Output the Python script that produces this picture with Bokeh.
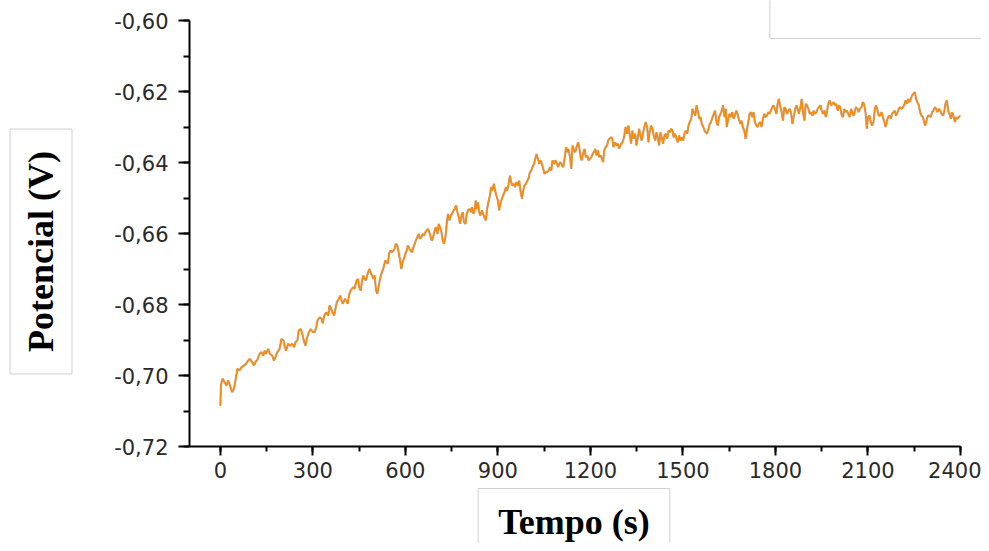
from bokeh.plotting import figure
from bokeh.models import SingleIntervalTicker, CustomJSTickFormatter, Label, Range1d
from bokeh.embed import file_html
from bokeh.resources import INLINE

# ---- data (time in s, potential in V) ----
time_a = [0, 2, 7, 14, 20, 25, 31, 38, 44, 51,
          55, 62, 68, 76, 83, 90, 96, 103, 109, 114,
          120, 127, 133, 139, 144, 148, 155, 161, 168, 174,
          179, 185, 192, 198, 205, 209, 213, 220, 226, 233,
          239, 244, 250, 254, 261, 267, 272, 276, 280, 287,
          293, 300, 306, 311, 315, 322, 328, 332, 337, 343,
          350, 354, 358, 363, 369, 374, 378, 384, 389, 393,
          397, 404, 408, 413, 417, 422]
pot_a = [-0.7085, -0.7028, -0.7009, -0.7019, -0.7028, -0.7014, -0.7028, -0.7047, -0.7038, -0.7005,
         -0.6981, -0.6986, -0.6977, -0.6972, -0.6967, -0.6958, -0.6953, -0.6962, -0.6972, -0.6962,
         -0.6956, -0.6939, -0.6934, -0.6944, -0.6930, -0.6939, -0.6925, -0.6939, -0.6944, -0.6958,
         -0.6948, -0.6934, -0.6925, -0.6897, -0.6901, -0.6920, -0.6930, -0.6911, -0.6916, -0.6911,
         -0.6920, -0.6906, -0.6901, -0.6873, -0.6869, -0.6887, -0.6906, -0.6916, -0.6897, -0.6878,
         -0.6869, -0.6878, -0.6878, -0.6864, -0.6845, -0.6836, -0.6840, -0.6853, -0.6831, -0.6822,
         -0.6831, -0.6803, -0.6808, -0.6822, -0.6831, -0.6808, -0.6793, -0.6784, -0.6775, -0.6789,
         -0.6798, -0.6784, -0.6789, -0.6798, -0.6775, -0.6761]

time_b = [431, 435, 442, 446, 450, 455, 459, 463, 468, 472,
          476, 483, 487, 492, 496, 500, 505, 509, 513, 517,
          522, 528, 535, 539, 543, 548, 552, 556, 561, 565,
          569, 574, 578, 582, 587, 591, 595, 600, 604, 608,
          613, 617, 621, 626, 630, 634, 639, 643, 647, 652,
          656, 660, 665, 669, 673, 678, 682, 686, 691, 695,
          699, 704, 708, 712, 717, 721, 725, 730, 734, 738,
          743, 747, 751, 756, 760, 764, 769, 773, 777, 782,
          786, 790, 795, 799, 803, 808, 812, 816, 821, 825,
          828]
pot_b = [-0.6751, -0.6756, -0.6732, -0.6728, -0.6751, -0.6761, -0.6737, -0.6718, -0.6728, -0.6732,
         -0.6718, -0.6700, -0.6709, -0.6718, -0.6728, -0.6718, -0.6761, -0.6770, -0.6751, -0.6732,
         -0.6714, -0.6700, -0.6676, -0.6681, -0.6685, -0.6653, -0.6648, -0.6653, -0.6648, -0.6643,
         -0.6629, -0.6634, -0.6653, -0.6671, -0.6700, -0.6681, -0.6671, -0.6657, -0.6648, -0.6634,
         -0.6643, -0.6648, -0.6653, -0.6639, -0.6629, -0.6620, -0.6610, -0.6601, -0.6615, -0.6610,
         -0.6601, -0.6606, -0.6596, -0.6592, -0.6587, -0.6596, -0.6610, -0.6620, -0.6606, -0.6592,
         -0.6582, -0.6601, -0.6573, -0.6582, -0.6596, -0.6620, -0.6629, -0.6610, -0.6573, -0.6545,
         -0.6563, -0.6549, -0.6545, -0.6535, -0.6531, -0.6521, -0.6540, -0.6554, -0.6573, -0.6549,
         -0.6540, -0.6568, -0.6573, -0.6545, -0.6535, -0.6531, -0.6540, -0.6526, -0.6545, -0.6531,
         -0.6507]

time_c = [830, 835, 839, 843, 848, 852, 856, 861, 865, 869,
          874, 878, 882, 887, 891, 895, 900, 904, 908, 913,
          917, 921, 926, 930, 934, 939, 943, 947, 952, 956,
          960, 965, 969, 973, 978, 982, 986, 991, 995, 999,
          1004, 1008, 1012, 1017, 1021, 1025, 1030, 1034, 1038, 1043,
          1047, 1051, 1056, 1060, 1064, 1069, 1073, 1077, 1082, 1086,
          1090, 1095, 1099, 1103, 1108, 1112, 1116, 1121, 1125, 1129,
          1134, 1138, 1142, 1147, 1151, 1155, 1160, 1164, 1168, 1172,
          1177, 1181, 1185, 1190, 1194, 1198, 1203, 1207, 1211, 1216,
          1220, 1224, 1229, 1233]
pot_c = [-0.6531, -0.6512, -0.6540, -0.6549, -0.6535, -0.6545, -0.6554, -0.6563, -0.6531, -0.6512,
         -0.6493, -0.6469, -0.6479, -0.6460, -0.6479, -0.6493, -0.6507, -0.6535, -0.6516, -0.6502,
         -0.6493, -0.6484, -0.6469, -0.6479, -0.6465, -0.6437, -0.6455, -0.6465, -0.6460, -0.6469,
         -0.6455, -0.6465, -0.6451, -0.6479, -0.6502, -0.6479, -0.6465, -0.6460, -0.6451, -0.6446,
         -0.6427, -0.6423, -0.6413, -0.6404, -0.6390, -0.6376, -0.6390, -0.6404, -0.6394, -0.6404,
         -0.6418, -0.6432, -0.6427, -0.6427, -0.6423, -0.6413, -0.6423, -0.6394, -0.6404, -0.6394,
         -0.6399, -0.6413, -0.6404, -0.6399, -0.6408, -0.6413, -0.6390, -0.6357, -0.6371, -0.6362,
         -0.6385, -0.6418, -0.6352, -0.6366, -0.6371, -0.6357, -0.6343, -0.6357, -0.6385, -0.6394,
         -0.6371, -0.6362, -0.6385, -0.6380, -0.6394, -0.6390, -0.6385, -0.6376, -0.6371, -0.6362,
         -0.6380, -0.6366, -0.6385, -0.6380]

time_d = [1241, 1245, 1249, 1254, 1258, 1262, 1267, 1271, 1275, 1280,
          1284, 1288, 1293, 1297, 1301, 1306, 1310, 1314, 1319, 1323,
          1327, 1332, 1336, 1340, 1345, 1349, 1353, 1358, 1362, 1366,
          1371, 1375, 1379, 1384, 1388, 1392, 1397, 1401, 1405, 1410,
          1414, 1418, 1423, 1427, 1431, 1436, 1440, 1444, 1449, 1453,
          1457, 1462, 1466, 1470, 1475, 1479, 1483, 1488, 1492, 1496,
          1501, 1505, 1509, 1514, 1518, 1522, 1527, 1531, 1535, 1540,
          1544, 1548, 1553, 1557, 1561, 1566, 1570, 1574, 1578, 1583,
          1587, 1591, 1596, 1600, 1604, 1609, 1613, 1617, 1622, 1626,
          1630, 1635, 1639]
pot_d = [-0.6399, -0.6366, -0.6357, -0.6352, -0.6338, -0.6333, -0.6329, -0.6333, -0.6357, -0.6343,
         -0.6352, -0.6347, -0.6361, -0.6352, -0.6347, -0.6338, -0.6324, -0.6300, -0.6319, -0.6296,
         -0.6319, -0.6347, -0.6310, -0.6333, -0.6319, -0.6352, -0.6333, -0.6305, -0.6324, -0.6338,
         -0.6315, -0.6300, -0.6286, -0.6300, -0.6343, -0.6315, -0.6296, -0.6305, -0.6324, -0.6338,
         -0.6315, -0.6329, -0.6352, -0.6315, -0.6329, -0.6347, -0.6324, -0.6319, -0.6333, -0.6310,
         -0.6315, -0.6305, -0.6310, -0.6329, -0.6319, -0.6333, -0.6343, -0.6324, -0.6338, -0.6329,
         -0.6338, -0.6319, -0.6310, -0.6319, -0.6296, -0.6286, -0.6277, -0.6249, -0.6258, -0.6268,
         -0.6239, -0.6254, -0.6277, -0.6272, -0.6291, -0.6300, -0.6310, -0.6315, -0.6319, -0.6305,
         -0.6291, -0.6286, -0.6272, -0.6263, -0.6254, -0.6286, -0.6296, -0.6272, -0.6263, -0.6254,
         -0.6239, -0.6272, -0.6249]

time_e = [1642, 1647, 1651, 1655, 1660, 1664, 1668, 1673, 1677, 1681,
          1686, 1690, 1694, 1699, 1703, 1707, 1712, 1716, 1720, 1725,
          1729, 1733, 1738, 1742, 1746, 1751, 1755, 1759, 1764, 1768,
          1772, 1777, 1781, 1785, 1790, 1794, 1798, 1803, 1807, 1811,
          1816, 1820, 1824, 1829, 1833, 1837, 1842, 1846, 1850, 1855,
          1859, 1863, 1868, 1872, 1876, 1881, 1885, 1889, 1894, 1898,
          1902, 1907, 1911, 1915, 1920, 1924, 1928, 1933, 1937, 1941,
          1946, 1950, 1954, 1959, 1963, 1967, 1971, 1976, 1980, 1984,
          1989, 1993, 1997, 2002, 2006, 2010, 2015, 2019, 2023, 2028,
          2032, 2036, 2041, 2045]
pot_e = [-0.6300, -0.6277, -0.6263, -0.6272, -0.6258, -0.6277, -0.6268, -0.6254, -0.6263, -0.6277,
         -0.6291, -0.6282, -0.6300, -0.6310, -0.6333, -0.6310, -0.6286, -0.6263, -0.6258, -0.6272,
         -0.6258, -0.6286, -0.6296, -0.6300, -0.6291, -0.6286, -0.6300, -0.6277, -0.6263, -0.6272,
         -0.6268, -0.6258, -0.6263, -0.6254, -0.6244, -0.6239, -0.6249, -0.6263, -0.6235, -0.6221,
         -0.6244, -0.6258, -0.6282, -0.6244, -0.6249, -0.6263, -0.6254, -0.6249, -0.6258, -0.6291,
         -0.6272, -0.6254, -0.6239, -0.6249, -0.6263, -0.6244, -0.6221, -0.6258, -0.6282, -0.6235,
         -0.6239, -0.6249, -0.6263, -0.6258, -0.6268, -0.6254, -0.6263, -0.6258, -0.6249, -0.6244,
         -0.6239, -0.6254, -0.6263, -0.6254, -0.6272, -0.6258, -0.6235, -0.6225, -0.6239, -0.6235,
         -0.6230, -0.6239, -0.6235, -0.6254, -0.6239, -0.6244, -0.6268, -0.6272, -0.6249, -0.6258,
         -0.6254, -0.6263, -0.6272, -0.6249]

time_f = [2053, 2057, 2061, 2066, 2070, 2074, 2079, 2083, 2087, 2092,
          2096, 2100, 2105, 2109, 2113, 2118, 2122, 2126, 2131, 2135,
          2139, 2144, 2148, 2152, 2157, 2161, 2165, 2170, 2174, 2178,
          2183, 2187, 2191, 2196, 2200, 2204, 2209, 2213, 2217, 2222,
          2226, 2230, 2235, 2239, 2243, 2247, 2252, 2256, 2260, 2265,
          2269, 2273, 2278, 2282, 2286, 2291, 2295, 2299, 2304, 2308,
          2312, 2317, 2321, 2325, 2330, 2334, 2338, 2343, 2347, 2351,
          2356, 2360, 2364, 2369, 2373, 2377, 2382, 2386, 2390, 2395,
          2399]
pot_f = [-0.6268, -0.6258, -0.6244, -0.6249, -0.6258, -0.6249, -0.6244, -0.6230, -0.6235, -0.6258,
         -0.6305, -0.6272, -0.6268, -0.6286, -0.6296, -0.6286, -0.6249, -0.6239, -0.6254, -0.6268,
         -0.6268, -0.6258, -0.6272, -0.6282, -0.6300, -0.6286, -0.6272, -0.6268, -0.6277, -0.6263,
         -0.6258, -0.6254, -0.6268, -0.6258, -0.6249, -0.6244, -0.6249, -0.6244, -0.6239, -0.6225,
         -0.6235, -0.6221, -0.6230, -0.6221, -0.6211, -0.6207, -0.6202, -0.6221, -0.6230, -0.6239,
         -0.6258, -0.6268, -0.6272, -0.6286, -0.6296, -0.6277, -0.6268, -0.6268, -0.6272, -0.6258,
         -0.6254, -0.6244, -0.6249, -0.6258, -0.6249, -0.6254, -0.6263, -0.6268, -0.6258, -0.6235,
         -0.6225, -0.6254, -0.6263, -0.6277, -0.6258, -0.6268, -0.6286, -0.6272, -0.6277, -0.6272,
         -0.6268]

x_title = "Tempo (s)"
y_title = "Potencial (V)"
x_axis_bounds = (-100, 2400)
y_axis_bounds = (-0.72, -0.60)

time_s = time_a + time_b + time_c + time_d + time_e + time_f
potential = pot_a + pot_b + pot_c + pot_d + pot_e + pot_f
n = min(len(time_s), len(potential))
time_s, potential = time_s[:n], potential[:n]

# ---- layout: the frame fills the canvas, axes sit at fixed data locations ----
W, H = 981, 543
AX_LEFT, AX_RIGHT, AX_TOP, AX_BOTTOM = 189, 960, 20, 446   # axis-box pixels
px_per_s = (AX_RIGHT - AX_LEFT) / (x_axis_bounds[1] - x_axis_bounds[0])
px_per_v = (AX_BOTTOM - AX_TOP) / (y_axis_bounds[1] - y_axis_bounds[0])


def sx(px):
    return x_axis_bounds[0] + (px - AX_LEFT) / px_per_s


def sy(py):
    return y_axis_bounds[0] + (AX_BOTTOM - py) / px_per_v


p = figure(width=W, height=H, output_backend="svg", toolbar_location=None,
           x_range=Range1d(sx(0), sx(W)), y_range=Range1d(sy(H), sy(0)),
           min_border=0)
p.outline_line_color = None
p.xgrid.visible = False
p.ygrid.visible = False
p.background_fill_color = "white"
p.border_fill_color = "white"

p.line(time_s, potential, line_color="#b98a62", line_width=2.2, line_alpha=0.8)
p.line(time_s, potential, line_color="#ff8a00", line_width=1.2)

p.xaxis.ticker = SingleIntervalTicker(interval=300, num_minor_ticks=2)
p.yaxis.ticker = SingleIntervalTicker(interval=0.02, num_minor_ticks=2)
p.yaxis.formatter = CustomJSTickFormatter(code="return tick.toFixed(2).replace('.', ',');")
p.xaxis.formatter = CustomJSTickFormatter(code="return tick.toFixed(0);")
p.xaxis.bounds = x_axis_bounds
p.yaxis.bounds = y_axis_bounds
p.xaxis.fixed_location = y_axis_bounds[0]
p.yaxis.fixed_location = x_axis_bounds[0]

for ax, tick_out, minor_out, standoff in ((p.xaxis, 9, 5, 6), (p.yaxis, 11, 6, 10)):
    ax.axis_line_width = 2
    ax.axis_line_color = "black"
    ax.major_tick_line_width = 2
    ax.minor_tick_line_width = 2
    ax.major_tick_line_color = "black"
    ax.minor_tick_line_color = "black"
    ax.major_tick_in = 0
    ax.major_tick_out = tick_out
    ax.minor_tick_in = 0
    ax.minor_tick_out = minor_out
    ax.major_label_text_font = "DejaVu Sans"
    ax.major_label_text_font_size = "21px"
    ax.major_label_text_color = "#2a2a2a"
    ax.major_label_standoff = standoff

ylab = Label(x=sx(40.5), y=sy(251), text=y_title, angle=90, angle_units="deg",
             text_font="Liberation Serif", text_font_style="bold", text_font_size="36px",
             text_align="center", text_baseline="middle", text_color="black",
             border_line_color="#cfcfcf", border_line_width=1,
             background_fill_color="white",
             padding=dict(left=22, right=22, top=11, bottom=11))
xlab = Label(x=sx(573.5), y=sy(521), text=x_title,
             text_font="Liberation Serif", text_font_style="bold", text_font_size="36px",
             text_align="center", text_baseline="middle", text_color="black",
             border_line_color="#cfcfcf", border_line_width=1,
             background_fill_color="white",
             padding=dict(left=20, right=20, top=13, bottom=13))
legend_box = Label(x=sx(885), y=sy(10), text=" ",
                   text_font_size="12px", text_align="center", text_baseline="middle",
                   border_line_color="#cfcfcf", border_line_width=1,
                   background_fill_color="white",
                   padding=dict(left=114, right=114, top=21, bottom=21))
p.add_layout(ylab)
p.add_layout(xlab)
p.add_layout(legend_box)

open("out.html", "w").write(file_html(p, INLINE))
